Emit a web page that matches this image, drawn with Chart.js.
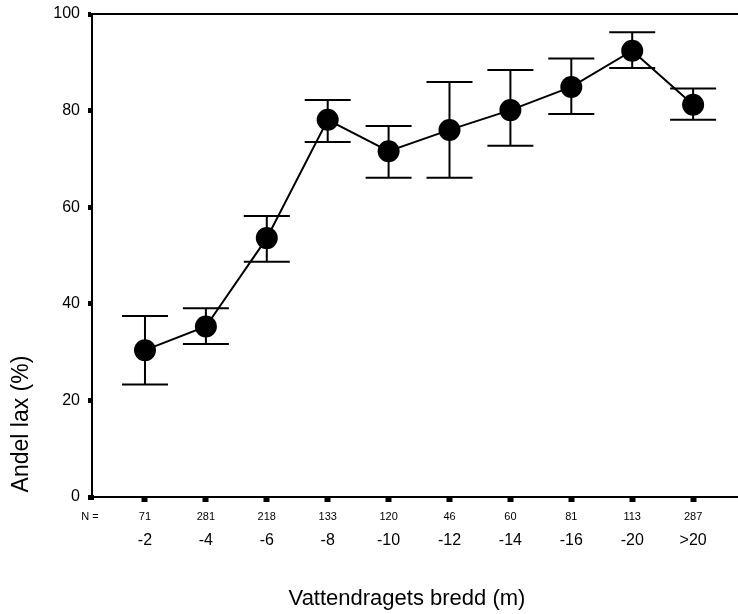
<!DOCTYPE html>
<html>
<head>
<meta charset="utf-8">
<script src="https://cdn.jsdelivr.net/npm/chart.js@4"></script>
<style>
  body { margin: 0; background: #fff; }
  canvas { display: block; }
</style>
</head>
<body>
<canvas id="chart" width="738" height="614"></canvas>
<script>
// river width classes and the number of sites in each
const categories = ['-2', '-4', '-6', '-8', '-10', '-12', '-14', '-16', '-20', '>20'];
const counts = ['71', '281', '218', '133', '120', '46', '60', '81', '113', '287'];

// share of salmon (%), mean and error bar ends
const means = [30.4, 35.3, 53.6, 78.1, 71.6, 76.0, 80.1, 84.9, 92.4, 81.2];
const upper = [37.5, 39.1, 58.2, 82.2, 76.8, 85.9, 88.4, 90.8, 96.2, 84.6];
const lower = [23.3, 31.7, 48.7, 73.5, 66.1, 66.1, 72.7, 79.3, 88.8, 78.1];

const yTicks = [0, 20, 40, 60, 80, 100];

const FONT = "'Liberation Sans', Arial, sans-serif";

const errorBars = {
    id: 'errorBars',
    beforeDatasetsDraw(chart) {
        const ctx = chart.ctx;
        const xs = chart.scales.x, ys = chart.scales.y;
        ctx.save();
        ctx.strokeStyle = '#000';
        ctx.lineWidth = 2;
        for (let i = 0; i < means.length; i++) {
            const x = xs.getPixelForValue(i);
            const top = ys.getPixelForValue(upper[i]);
            const bot = ys.getPixelForValue(lower[i]);
            ctx.beginPath();
            ctx.moveTo(x, top); ctx.lineTo(x, bot);
            ctx.moveTo(x - 23, top); ctx.lineTo(x + 23, top);
            ctx.moveTo(x - 23, bot); ctx.lineTo(x + 23, bot);
            ctx.stroke();
        }
        ctx.restore();
    }
};

const extras = {
    id: 'extras',
    afterDraw(chart) {
        const ctx = chart.ctx;
        const area = chart.chartArea;
        const xs = chart.scales.x;
        ctx.save();
        // top frame line
        ctx.strokeStyle = '#000';
        ctx.lineWidth = 2;
        ctx.beginPath();
        ctx.moveTo(area.left, area.top);
        ctx.lineTo(area.right, area.top);
        ctx.stroke();
        // corner square
        ctx.fillStyle = '#000';
        ctx.fillRect(area.left - 3, area.bottom - 2, 5, 5);

        ctx.textAlign = 'center';
        ctx.textBaseline = 'middle';
        ctx.font = '11px ' + FONT;
        ctx.fillText('N =', 90, 517);

        ctx.font = '16px ' + FONT;
        categories.forEach(function (c, i) {
            ctx.fillText(c, xs.getPixelForValue(i), 541);
        });

        ctx.font = '22px ' + FONT;
        ctx.fillText('Vattendragets bredd (m)', 407, 599);

        ctx.translate(22, 424);
        ctx.rotate(-Math.PI / 2);
        ctx.font = '23px ' + FONT;
        ctx.fillText('Andel lax (%)', 0, 0);
        ctx.restore();
    }
};

const ctx = document.getElementById('chart').getContext('2d');
const chart = new Chart(ctx, {
    type: 'line',
    data: {
        datasets: [{
            data: means.map(function (v, i) { return { x: i, y: v }; }),
            borderColor: '#000',
            borderWidth: 2,
            backgroundColor: '#000',
            pointRadius: 11,
            pointBackgroundColor: '#000',
            pointBorderWidth: 0,
            tension: 0
        }]
    },
    options: {
        responsive: false,
        animation: false,
        layout: {
            autoPadding: false,
            padding: { top: 14, right: 0, left: 0, bottom: 0 }
        },
        plugins: {
            legend: { display: false },
            tooltip: { enabled: false }
        },
        scales: {
            x: {
                type: 'linear',
                min: -0.87,
                max: 9.737,
                afterFit: function (scale) {
                    scale.height = 117;
                    scale.paddingLeft = 0;
                    scale.paddingRight = 0;
                },
                afterBuildTicks: function (scale) {
                    scale.ticks = counts.map(function (c, i) { return { value: i }; });
                },
                grid: {
                    drawOnChartArea: false,
                    drawTicks: true,
                    tickLength: 5,
                    tickWidth: 6,
                    tickColor: '#000'
                },
                border: { color: '#000', width: 2 },
                ticks: {
                    color: '#000',
                    padding: 8,
                    maxRotation: 0,
                    autoSkip: false,
                    font: { family: FONT, size: 11 },
                    callback: function (value) { return counts[value]; }
                }
            },
            y: {
                min: 0,
                max: 100,
                afterFit: function (scale) {
                    scale.width = 92;
                    scale.paddingTop = 0;
                    scale.paddingBottom = 0;
                },
                afterBuildTicks: function (scale) {
                    scale.ticks = yTicks.map(function (v) { return { value: v }; });
                },
                grid: {
                    drawOnChartArea: false,
                    drawTicks: true,
                    tickLength: 4,
                    tickWidth: 5,
                    tickColor: '#000'
                },
                border: { color: '#000', width: 2 },
                ticks: {
                    color: '#000',
                    padding: 8,
                    font: { family: FONT, size: 16 }
                }
            }
        }
    },
    plugins: [errorBars, extras]
});
</script>
</body>
</html>
